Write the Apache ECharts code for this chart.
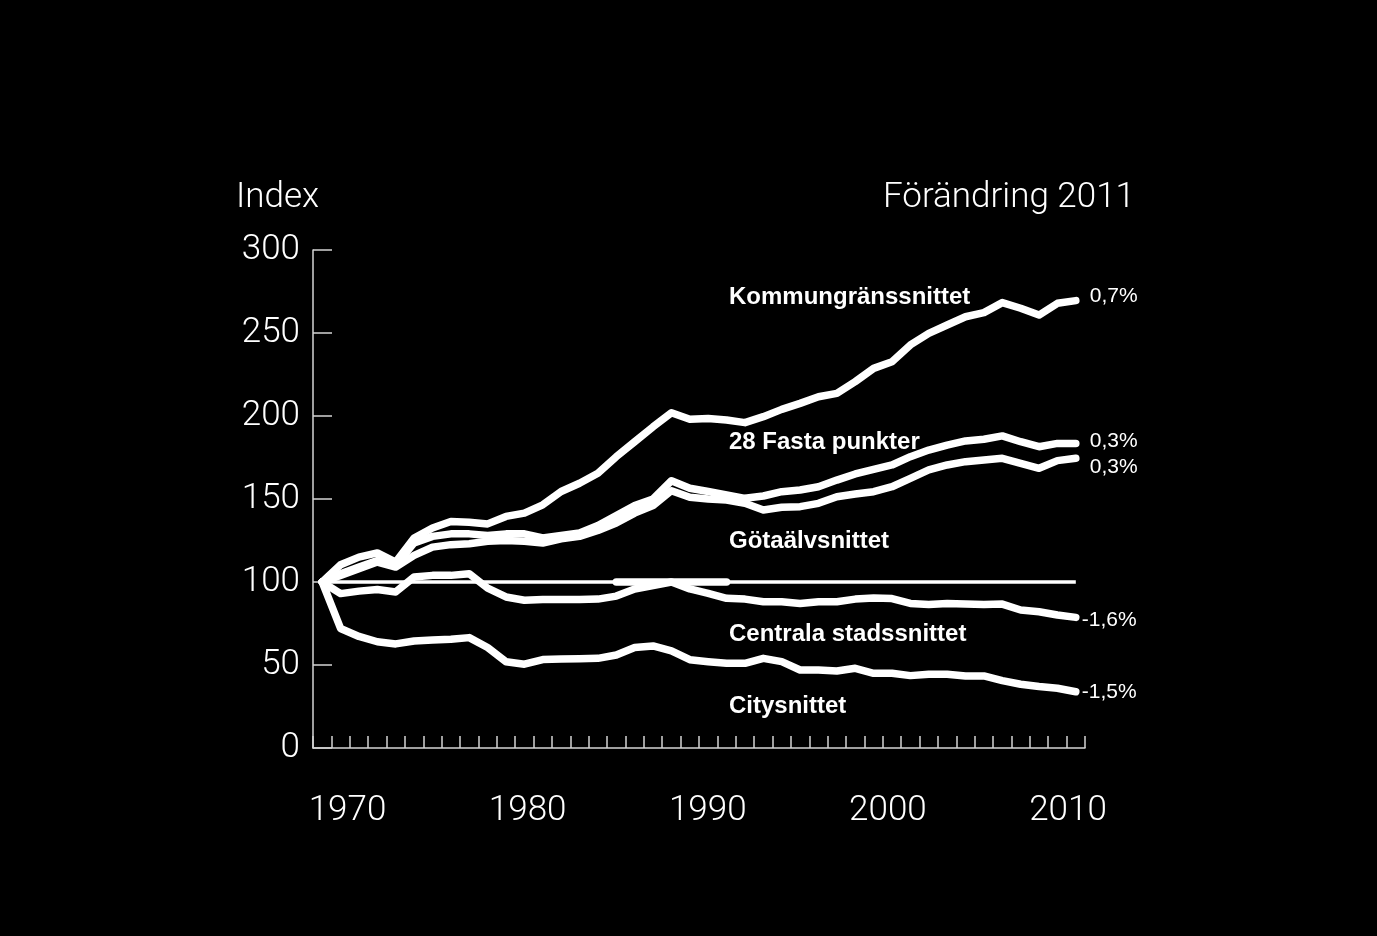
<!DOCTYPE html>
<html>
<head>
<meta charset="utf-8">
<script src="https://cdn.jsdelivr.net/npm/echarts@6/dist/echarts.min.js"></script>
<style>
html,body{margin:0;padding:0;background:#000;}
#c{width:1377px;height:936px;}
</style>
</head>
<body>
<div id="c"></div>
<script>
// ---- data ----
const years = [1969,1970,1971,1972,1973,1974,1975,1976,1977,1978,1979,1980,1981,1982,1983,1984,1985,1986,1987,1988,1989,1990,1991,1992,1993,1994,1995,1996,1997,1998,1999,2000,2001,2002,2003,2004,2005,2006,2007,2008,2009,2010];
const xTickLabels = [1970,1980,1990,2000,2010];
const kommun = [100,110.4,115,117.5,112,126.5,132.5,136.5,136,135,139.5,141.5,146.5,154.5,159.5,165.5,175.5,184.5,193.5,202,198,198.5,197.6,196,199.6,204,207.6,211.6,213.6,220.7,228.7,232.7,242.8,249.8,254.8,259.8,262.3,268.3,264.9,260.8,267.9,269.5];
const fasta = [100,105,109,113,110,123.5,127.5,129,129,128,129,129,126.5,128,129.5,134,140,146,150,161,156.5,154.5,152.4,150.4,151.8,154.4,155.4,157.4,161.4,165.1,167.9,170.5,175.5,179.5,182.5,185,186,188,184.5,181.5,183.5,183.5];
const gota = [100,104,108,112,109,116,121,122.5,123,124.5,125,124.5,123.5,126,127.5,131,135.5,141.5,146,155,151,150,149.4,147.4,143.4,145,145.4,147.4,151.4,153,154.4,157.4,162.4,167.5,170.5,172.5,173.5,174.5,171.5,168.5,173.1,174.5];
const centrala = [100,93,94.5,95.5,94,103,104,104,105,96.3,91,89,89.5,89.5,89.5,89.7,91.5,95.8,97.8,100,95.8,93.2,90.2,89.7,88.1,88.1,87.1,88.1,88.1,89.7,90.3,90,87.1,86.5,87.1,86.7,86.5,86.7,83.1,82.1,80.1,78.7];
const city = [100,72,67.2,64,62.7,64.5,65,65.5,66.5,60.5,52,50.5,53.3,53.6,53.8,54,56,60.5,61.5,58.5,53.2,52,51,51,54,52,47,47,46.4,48,45,45,43.6,44.4,44.4,43.4,43.4,40.6,38.4,37,36,33.9];
const segment100 = [null,null,null,null,null,null,null,null,null,null,null,null,null,null,null,null,100,100,100,100,100,100,100,null,null,null,null,null,null,null,null,null,null,null,null,null,null,null,null,null,null,null];
const baseline = [100,100,100,100,100,100,100,100,100,100,100,100,100,100,100,100,100,100,100,100,100,100,100,100,100,100,100,100,100,100,100,100,100,100,100,100,100,100,100,100,100,100];
const seriesNames = ['Kommungränssnittet','28 Fasta punkter','Götaälvsnittet','Centrala stadssnittet','Citysnittet'];
const changes = ['0,7%','0,3%','0,3%','-1,6%','-1,5%'];

// ---- chart ----
const FONT_LIGHT = 'Roboto';
const axisColor = '#d4d4d4';
const chart = echarts.init(document.getElementById('c'), null, {renderer:'canvas'});

function lineSeries(name, data, change, dist, dy) {
  return {
    name: name, type: 'line', data: data, symbol: 'none', showSymbol: false,
    silent: true, z: 3,
    lineStyle: {color:'#fff', width:7.5, cap:'round', join:'round'},
    endLabel: {show: !!change, formatter: change || '', color:'#fff', fontSize:21,
      fontFamily:'Liberation Sans', distance: dist, offset:[0, dy]}
  };
}

const option = {
  backgroundColor: '#000',
  animation: false,
  grid: {left:313, right:292, top:250, bottom:188, containLabel:false},
  xAxis: [
    {type:'category', data: years, boundaryGap:true,
     axisLine:{show:true, lineStyle:{color:axisColor, width:1.5}},
     axisTick:{show:true, inside:true, length:12, interval:0, lineStyle:{color:axisColor, width:1.5}},
     axisLabel:{show:false}, splitLine:{show:false}},
    {type:'value', position:'bottom', min:1968.083, max:2010.944,
     axisLine:{show:false}, axisTick:{show:false}, splitLine:{show:false},
     axisLabel:{show:true, customValues: xTickLabels, color:'#fff', fontSize:35,
       fontFamily:FONT_LIGHT, fontWeight:300, margin:46, formatter: v => String(v)}}
  ],
  yAxis: {type:'value', min:0, max:300, interval:50,
    axisLine:{show:true, lineStyle:{color:axisColor, width:1.5}},
    axisTick:{show:true, inside:true, length:19, lineStyle:{color:axisColor, width:1.5}},
    splitLine:{show:false},
    axisLabel:{color:'#fff', fontSize:35, fontFamily:FONT_LIGHT, fontWeight:300, margin:13, padding:[6,0,0,0]}},
  series: [
    {name:'Index 100', type:'line', data: baseline, symbol:'none', silent:true, z:2,
     lineStyle:{color:'#fff', width:3.5}},
    {name:'100-segment', type:'line', data: segment100, symbol:'none', silent:true, z:3,
     lineStyle:{color:'#fff', width:7.5, cap:'round'}},
    lineSeries(seriesNames[0], kommun, changes[0], 14, -4),
    lineSeries(seriesNames[1], fasta, changes[1], 14, -2),
    lineSeries(seriesNames[2], gota, changes[2], 14, 9),
    lineSeries(seriesNames[3], centrala, changes[3], 6, 3),
    lineSeries(seriesNames[4], city, changes[4], 6, 0)
  ],
  graphic: [
    {type:'text', x:236, y:198, style:{text:'Index', fill:'#fff', fontSize:35, fontFamily:FONT_LIGHT, fontWeight:300, align:'left', verticalAlign:'middle'}},
    {type:'text', x:1135, y:198, style:{text:'Förändring 2011', fill:'#fff', fontSize:35, fontFamily:FONT_LIGHT, fontWeight:300, align:'right', verticalAlign:'middle'}},
    {type:'text', x:729, y:297, style:{text:seriesNames[0], fill:'#fff', fontSize:24, fontFamily:'Liberation Sans', fontWeight:'bold', align:'left', verticalAlign:'middle'}},
    {type:'text', x:729, y:442, style:{text:seriesNames[1], fill:'#fff', fontSize:24, fontFamily:'Liberation Sans', fontWeight:'bold', align:'left', verticalAlign:'middle'}},
    {type:'text', x:729, y:541, style:{text:seriesNames[2], fill:'#fff', fontSize:24, fontFamily:'Liberation Sans', fontWeight:'bold', align:'left', verticalAlign:'middle'}},
    {type:'text', x:729, y:634, style:{text:seriesNames[3], fill:'#fff', fontSize:24, fontFamily:'Liberation Sans', fontWeight:'bold', align:'left', verticalAlign:'middle'}},
    {type:'text', x:729, y:706, style:{text:seriesNames[4], fill:'#fff', fontSize:24, fontFamily:'Liberation Sans', fontWeight:'bold', align:'left', verticalAlign:'middle'}}
  ]
};
chart.setOption(option);
</script>
</body>
</html>
